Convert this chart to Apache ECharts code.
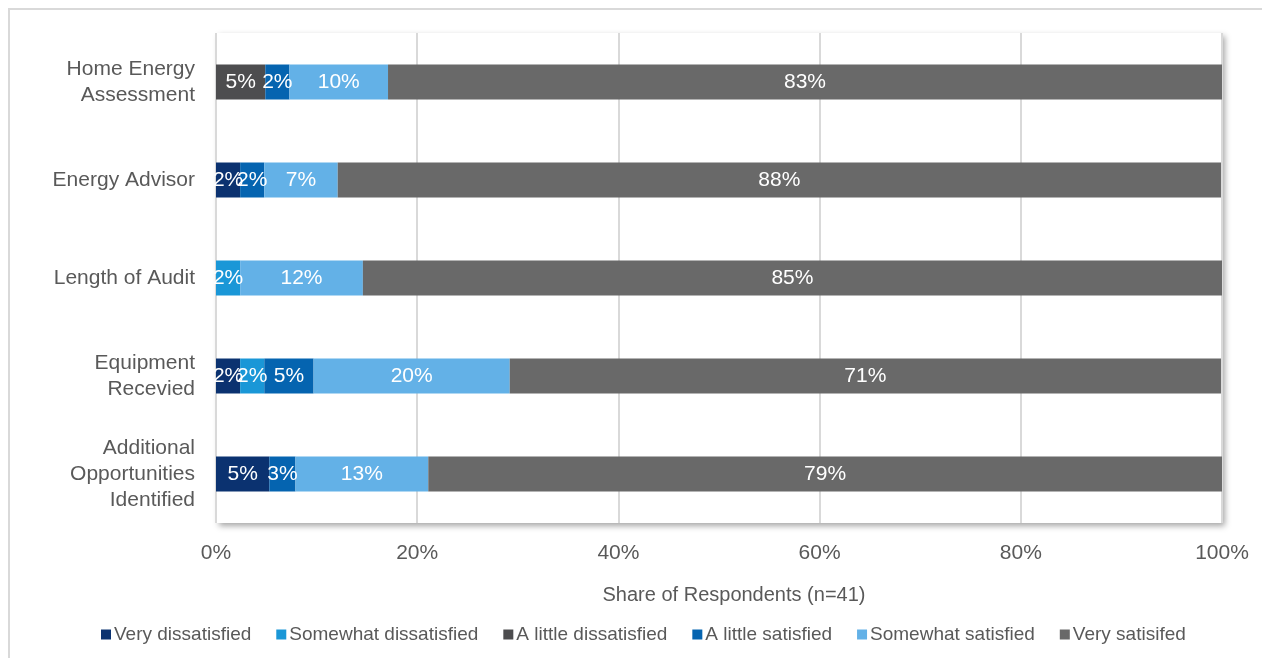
<!DOCTYPE html>
<html>
<head>
<meta charset="utf-8">
<title>Satisfaction with program components</title>
<script src="https://cdn.jsdelivr.net/npm/echarts@6/dist/echarts.min.js"></script>
<style>
  html, body { margin: 0; padding: 0; background: #fff; }
  #chart { width: 1262px; height: 658px; }
</style>
</head>
<body>
<div id="chart"></div>
<script>
// Program components, listed top to bottom
const categories = [
  'Home Energy\nAssessment',
  'Energy Advisor',
  'Length of Audit',
  'Equipment\nRecevied',
  'Additional\nOpportunities\nIdentified'
];

// Share of respondents (%) per rating, one value per component
const veryDissatisfied     = [null, 2.4, null, 2.4, 5.3];
const somewhatDissatisfied = [null, null, 2.4, 2.4, null];
const littleDissatisfied   = [4.9, null, null, null, null];
const littleSatisfied      = [2.4, 2.4, null, 4.9, 2.6];
const somewhatSatisfied    = [9.8, 7.3, 12.2, 19.5, 13.2];
const verySatisfied        = [82.9, 87.8, 85.4, 70.7, 78.9];

const xTicks = [0, 20, 40, 60, 80, 100];

const seriesDefs = [
  { name: 'Very dissatisfied',     data: veryDissatisfied,     color: '#0b3270' },
  { name: 'Somewhat dissatisfied', data: somewhatDissatisfied, color: '#1a97d7' },
  { name: 'A little dissatisfied', data: littleDissatisfied,   color: '#4d4d4f' },
  { name: 'A little satisfied',    data: littleSatisfied,      color: '#0564b0' },
  { name: 'Somewhat satisfied',    data: somewhatSatisfied,    color: '#63b1e7' },
  { name: 'Very satisifed',        data: verySatisfied,        color: '#696969' }
];

const FONT = '"Liberation Sans", Arial, sans-serif';
const TEXT = '#595959';

const chart = echarts.init(document.getElementById('chart'), null, { renderer: 'canvas' });

chart.setOption({
  animation: false,
  textStyle: { fontFamily: FONT },
  graphic: [{
    type: 'rect',
    silent: true,
    z: -10,
    shape: { x: 9, y: 9, width: 1270, height: 670 },
    style: { fill: '#ffffff', stroke: '#d9d9d9', lineWidth: 2 }
  }],
  grid: {
    left: 216, right: 40, top: 33, bottom: 135,
    show: true,
    backgroundColor: '#ffffff',
    borderWidth: 0,
    shadowColor: 'rgba(0,0,0,0.35)',
    shadowBlur: 6,
    shadowOffsetX: 3,
    shadowOffsetY: 3
  },
  legend: {
    bottom: 9,
    left: 96,
    itemWidth: 10,
    itemHeight: 10,
    itemGap: 25,
    icon: 'rect',
    textStyle: { fontFamily: FONT, fontSize: 19, color: TEXT, padding: [0, 0, 0, -2] },
    data: seriesDefs.map(s => s.name)
  },
  xAxis: {
    type: 'value',
    min: xTicks[0],
    max: xTicks[xTicks.length - 1],
    interval: 20,
    axisLine: { show: false },
    axisTick: { show: false },
    splitLine: { show: true, lineStyle: { color: '#d9d9d9', width: 2 } },
    axisLabel: {
      formatter: v => v + '%',
      color: TEXT, fontSize: 21, margin: 20, fontFamily: FONT
    },
    name: 'Share of Respondents (n=41)',
    nameLocation: 'middle',
    nameGap: 62,
    nameTextStyle: { color: TEXT, fontSize: 20, fontFamily: FONT, padding: [0, 0, 0, 30] }
  },
  yAxis: {
    type: 'category',
    inverse: true,
    data: categories,
    axisLine: { show: false },
    axisTick: { show: false },
    splitLine: { show: false },
    axisLabel: { color: TEXT, fontSize: 21, lineHeight: 26, margin: 21, fontFamily: FONT, align: 'right' }
  },
  series: seriesDefs.map(s => ({
    name: s.name,
    type: 'bar',
    stack: 'share',
    barWidth: 35,
    data: s.data,
    itemStyle: { color: s.color },
    label: {
      show: true,
      position: 'inside',
      color: '#ffffff',
      fontSize: 21,
      fontFamily: FONT,
      formatter: p => (p.value == null ? '' : Math.round(p.value) + '%')
    }
  }))
});
</script>
</body>
</html>
